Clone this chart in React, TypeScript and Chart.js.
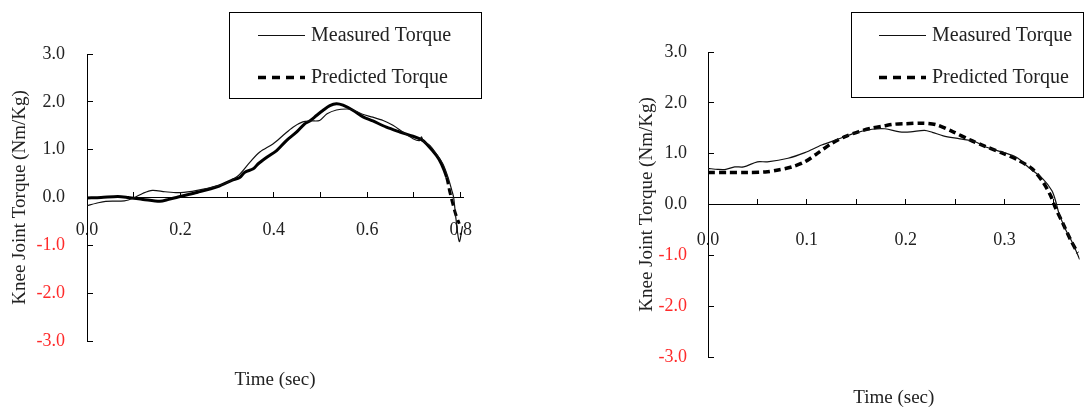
import React, { useEffect, useRef } from 'react';
import { Chart, registerables } from 'chart.js';

Chart.register(...registerables);

const FONT = "'Liberation Serif', 'Times New Roman', Times, serif";
const DARK = '#222222';
const RED = '#ff2a2a';

// ---- text ----
const yTitleText = 'Knee Joint Torque (Nm/Kg)';
const xTitleText = 'Time (sec)';
const seriesNames = ['Measured Torque', 'Predicted Torque'];
const yTickLabels = ['-3.0', '-2.0', '-1.0', '0.0', '1.0', '2.0', '3.0'];
const leftXTickLabels = ['0.0', '', '0.2', '', '0.4', '', '0.6', '', '0.8'];
const rightXTickLabels = ['0.0', '', '0.1', '', '0.2', '', '0.3', ''];

// ---- left chart data ----
const leftMeasuredT = [0, 0.02, 0.04, 0.08, 0.1, 0.12, 0.14, 0.167, 0.195, 0.225, 0.252, 0.295, 0.323, 0.349, 0.37, 0.398, 0.42, 0.441, 0.462, 0.48, 0.498, 0.514, 0.534, 0.556, 0.57, 0.59, 0.612, 0.634, 0.655, 0.676, 0.698, 0.712, 0.716, 0.72, 0.734, 0.748, 0.762, 0.773, 0.781, 0.785, 0.79, 0.797, 0.804];
const leftMeasuredV = [-0.17, -0.12, -0.08, -0.07, -0.01, 0.09, 0.15, 0.12, 0.1, 0.13, 0.18, 0.29, 0.45, 0.74, 0.95, 1.12, 1.3, 1.47, 1.58, 1.6, 1.61, 1.75, 1.83, 1.85, 1.83, 1.74, 1.68, 1.61, 1.51, 1.37, 1.23, 1.19, 1.27, 1.18, 1.09, 0.91, 0.7, 0.42, 0.15, 0.0, -0.45, -0.92, -0.6];
const leftPredictedT = [0, 0.03, 0.066, 0.088, 0.12, 0.156, 0.175, 0.195, 0.237, 0.28, 0.31, 0.327, 0.338, 0.356, 0.366, 0.385, 0.406, 0.427, 0.449, 0.466, 0.477, 0.492, 0.505, 0.52, 0.534, 0.548, 0.57, 0.59, 0.612, 0.641, 0.67, 0.698, 0.716, 0.727, 0.748, 0.759, 0.77, 0.776, 0.781, 0.789, 0.797];
const leftPredictedV = [-0.01, 0.0, 0.02, 0.0, -0.04, -0.08, -0.04, 0.01, 0.11, 0.23, 0.36, 0.42, 0.53, 0.6, 0.7, 0.84, 0.98, 1.19, 1.37, 1.54, 1.6, 1.72, 1.82, 1.92, 1.96, 1.93, 1.82, 1.69, 1.6, 1.47, 1.37, 1.28, 1.21, 1.12, 0.88, 0.7, 0.42, 0.15, -0.05, -0.34, -0.55];

// ---- right chart data ----
const rightMeasuredT = [0, 0.01, 0.018, 0.027, 0.036, 0.05, 0.06, 0.081, 0.098, 0.115, 0.131, 0.148, 0.166, 0.179, 0.194, 0.205, 0.219, 0.227, 0.238, 0.255, 0.271, 0.281, 0.298, 0.312, 0.325, 0.339, 0.348, 0.352, 0.355, 0.362, 0.369, 0.376];
const rightMeasuredV = [0.71, 0.69, 0.69, 0.74, 0.74, 0.84, 0.84, 0.91, 1.02, 1.17, 1.28, 1.4, 1.48, 1.49, 1.43, 1.43, 1.46, 1.42, 1.35, 1.29, 1.23, 1.13, 1.03, 0.93, 0.72, 0.5, 0.27, 0.05, -0.17, -0.5, -0.76, -1.08];
const rightPredictedT = [0, 0.02, 0.04, 0.058, 0.071, 0.085, 0.098, 0.111, 0.125, 0.138, 0.152, 0.165, 0.179, 0.189, 0.2, 0.217, 0.231, 0.248, 0.265, 0.281, 0.298, 0.315, 0.328, 0.339, 0.347, 0.351, 0.359, 0.367, 0.374];
const rightPredictedV = [0.63, 0.63, 0.63, 0.64, 0.68, 0.74, 0.84, 1.01, 1.2, 1.33, 1.43, 1.5, 1.55, 1.58, 1.59, 1.6, 1.57, 1.43, 1.27, 1.14, 1.01, 0.86, 0.7, 0.44, 0.16, -0.04, -0.37, -0.7, -0.95];

const zip = (t: number[], v: number[]) => t.map((x, i) => ({ x, y: v[i] }));

const boxLegend = {
  id: 'boxLegend',
  afterDraw(chart: any, _args: any, opts: any) {
    if (!opts || !opts.box) return;
    const ctx = chart.ctx;
    const [bx, by, bw, bh] = opts.box;
    ctx.save();
    ctx.fillStyle = '#ffffff';
    ctx.fillRect(bx, by, bw, bh);
    ctx.strokeStyle = '#000000';
    ctx.lineWidth = 1;
    ctx.setLineDash([]);
    ctx.strokeRect(bx + 0.5, by + 0.5, bw, bh);
    chart.data.datasets.forEach((ds: any, i: number) => {
      const y = opts.rows[i];
      ctx.beginPath();
      ctx.setLineDash(opts.dashes[i]);
      ctx.lineWidth = opts.widths[i];
      ctx.strokeStyle = ds.borderColor;
      ctx.moveTo(opts.sampleX, y);
      ctx.lineTo(opts.sampleX + opts.sampleW, y);
      ctx.stroke();
      ctx.setLineDash([]);
      ctx.fillStyle = DARK;
      ctx.font = `${opts.fontSize}px ${FONT}`;
      ctx.textBaseline = 'middle';
      ctx.textAlign = 'left';
      ctx.fillText(ds.label, opts.textX, y);
    });
    ctx.restore();
  },
};

type Geo = {
  xMax: number;
  xStep: number;
  xLabels: string[];
  yAxisWidth: number;
  yTitlePad: number;
  yTickPad: number;
  xTickPad: number;
  xTitleHeight: number;
  xTitlePadBottom: number;
  layoutPad: { top: number; left: number; right: number; bottom: number };
  legend: any;
  leftDashedOnlyAfter: number | null;
};

function makeConfig(measured: any[], predicted: any[], g: Geo): any {
  const tickFont = { family: FONT, size: 18 };
  const titleFont = { family: FONT, size: 19 };
  return {
    type: 'line',
    data: {
      datasets: [
        {
          label: seriesNames[0],
          data: measured,
          borderColor: '#111111',
          borderWidth: 1.2,
          pointRadius: 0,
          tension: 0.3,
          fill: false,
        },
        {
          label: seriesNames[1],
          data: predicted,
          borderColor: '#000000',
          borderWidth: g.leftDashedOnlyAfter !== null ? 3 : 3.5,
          borderDash: [7, 4],
          pointRadius: 0,
          tension: 0.3,
          fill: false,
          segment: g.leftDashedOnlyAfter !== null
            ? { borderDash: (c: any) => (c.p0.parsed.x < (g.leftDashedOnlyAfter as number) ? [] : undefined) }
            : undefined,
        },
      ],
    },
    options: {
      responsive: false,
      animation: false,
      devicePixelRatio: 1,
      layout: { padding: g.layoutPad },
      plugins: {
        legend: { display: false },
        tooltip: { enabled: false },
        boxLegend: g.legend,
      },
      scales: {
        x: {
          type: 'linear',
          position: { y: 0 },
          min: 0,
          max: g.xMax,
          grid: { drawOnChartArea: false, drawTicks: true, tickLength: -6, color: '#000000', lineWidth: 1 },
          border: { display: true, color: '#000000', width: 1 },
          ticks: {
            stepSize: g.xStep,
            includeBounds: false,
            autoSkip: false,
            maxRotation: 0,
            minRotation: 0,
            padding: g.xTickPad,
            color: DARK,
            font: tickFont,
            callback: (_v: any, i: number) => g.xLabels[i] ?? '',
          },
        },
        xTitle: {
          type: 'linear',
          position: 'bottom',
          display: true,
          grid: { display: false, drawTicks: false },
          border: { display: false },
          ticks: { display: false },
          title: {
            display: true,
            text: xTitleText,
            color: DARK,
            font: titleFont,
            padding: { top: 0, bottom: g.xTitlePadBottom },
          },
          afterFit: (s: any) => {
            s.height = g.xTitleHeight;
          },
        },
        y: {
          type: 'linear',
          position: 'left',
          min: -3,
          max: 3,
          grid: { drawOnChartArea: false, drawTicks: true, tickLength: -6, color: '#000000', lineWidth: 1 },
          border: { display: true, color: '#000000', width: 1 },
          ticks: {
            stepSize: 1,
            padding: g.yTickPad,
            font: tickFont,
            color: (c: any) => (c.tick && c.tick.value < 0 ? RED : DARK),
            callback: (_v: any, i: number) => yTickLabels[i],
          },
          title: {
            display: true,
            text: yTitleText,
            color: DARK,
            font: titleFont,
            padding: { top: g.yTitlePad, bottom: 0 },
          },
          afterFit: (s: any) => {
            s.width = g.yAxisWidth;
          },
        },
      },
    },
    plugins: [boxLegend],
  };
}

function ChartBox(props: { left: number; width: number; height: number; config: any }) {
  const ref = useRef<HTMLCanvasElement | null>(null);
  useEffect(() => {
    if (!ref.current) return;
    const chart = new Chart(ref.current, props.config);
    return () => chart.destroy();
  }, []);
  return (
    <canvas
      ref={ref}
      width={props.width}
      height={props.height}
      style={{ position: 'absolute', left: props.left, top: 0, width: props.width, height: props.height }}
    />
  );
}

export default function App() {
  const leftCfg = makeConfig(zip(leftMeasuredT, leftMeasuredV), zip(leftPredictedT, leftPredictedV), {
    xMax: 0.805,
    xStep: 0.1,
    xLabels: leftXTickLabels,
    yAxisWidth: 87,
    yTitlePad: 8.6,
    yTickPad: 28,
    xTickPad: 28.2,
    xTitleHeight: 67,
    xTitlePadBottom: 16.6,
    layoutPad: { top: 54, left: 0, right: 97, bottom: 0 },
    leftDashedOnlyAfter: 0.76,
    legend: {
      box: [229, 12, 252, 86],
      rows: [35.5, 77.5],
      sampleX: 258,
      sampleW: 47,
      textX: 311,
      fontSize: 20,
      dashes: [[], [8, 6]],
      widths: [1, 3.5],
    },
  });
  const rightCfg = makeConfig(zip(rightMeasuredT, rightMeasuredV), zip(rightPredictedT, rightPredictedV), {
    xMax: 0.376,
    xStep: 0.05,
    xLabels: rightXTickLabels,
    yAxisWidth: 72,
    yTitlePad: 0,
    yTickPad: 27,
    xTickPad: 30.7,
    xTitleHeight: 51,
    xTitlePadBottom: -1.4,
    layoutPad: { top: 52, left: 56, right: 5, bottom: 0 },
    leftDashedOnlyAfter: null,
    legend: {
      box: [271, 12, 232, 85],
      rows: [35.5, 77.5],
      sampleX: 299,
      sampleW: 47,
      textX: 352,
      fontSize: 20,
      dashes: [[], [8, 6]],
      widths: [1, 3.5],
    },
  });
  return (
    <div style={{ position: 'absolute', left: 0, top: 0, width: 1085, height: 408, overflow: 'hidden', background: '#ffffff' }}>
      <ChartBox left={0} width={560} height={408} config={leftCfg} />
      <ChartBox left={580} width={505} height={408} config={rightCfg} />
    </div>
  );
}
